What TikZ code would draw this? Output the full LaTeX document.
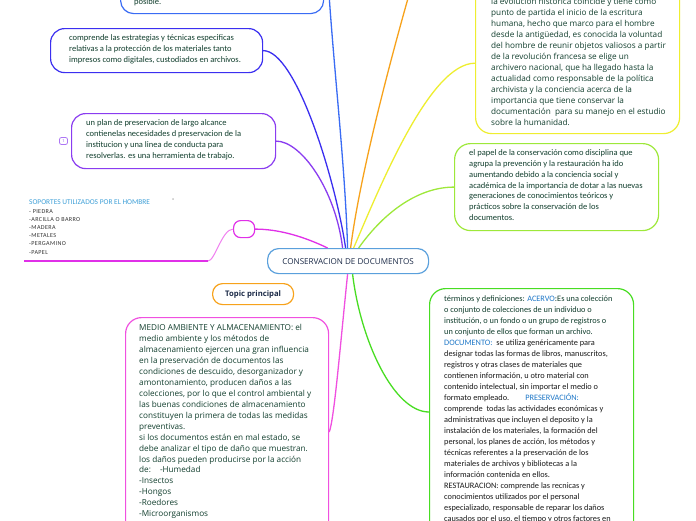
\documentclass[tikz,border=0pt]{standalone}
\usepackage{fontspec}
\setmainfont{Open Sans}
\newfontfamily\carl{Carlito}
\newfontfamily\carlsp[LetterSpace=6]{Carlito}
\usetikzlibrary{calc}
\definecolor{cBlue}{HTML}{3A6CF4}
\definecolor{cIndigo}{HTML}{3B2FF0}
\definecolor{cPurple}{HTML}{8A3CF0}
\definecolor{cMag}{HTML}{E030E8}
\definecolor{cMagLight}{HTML}{F080F0}
\definecolor{cPink}{HTML}{F050E0}
\definecolor{cYellow}{HTML}{EEEE30}
\definecolor{cLime}{HTML}{9EE83A}
\definecolor{cGreen}{HTML}{48DD22}
\definecolor{cOrange}{HTML}{F7A21B}
\definecolor{cRoot}{HTML}{5AA0DC}
\definecolor{tGreen}{HTML}{123F2E}
\definecolor{tNavy}{HTML}{1B2A47}
\definecolor{tKey}{HTML}{1F78C8}
\definecolor{tSop}{HTML}{3FA0D8}
\definecolor{tDark}{HTML}{1A1A1A}
\tikzset{
  box/.style={draw=#1, line width=1.2pt, rounded corners=14pt, fill=white,
    inner sep=0pt, anchor=north west},
  txt/.style={inner sep=0pt, anchor=north west, align=left, text=tGreen},
  conn/.style={draw=#1, line width=1.3pt},
}
\begin{document}
\begin{tikzpicture}[x=1pt,y=-1pt]
\useasboundingbox (0,0) rectangle (696,520);
\clip (0,0) rectangle (696,520);
\fill[white] (0,0) rectangle (696,520);

% off-canvas ends
\coordinate (c1) at (326,-60);
\coordinate (c2) at (425,-60);
\coordinate (u1) at (208,261);
\coordinate (u2) at (24,261);

% boxes
\node[box=cBlue, minimum width=203pt, minimum height=73pt, rounded corners=13pt] (n1) at (120,-60) {};
\node[box=cIndigo, minimum width=212pt, minimum height=44pt] (n2) at (50,28) {};
\node[box=cPurple, minimum width=204pt, minimum height=55pt] (n3) at (71,113) {};
\node[box=cMag, minimum width=21pt, minimum height=17pt, rounded corners=7pt] (sp) at (233,220) {};
\node[box=cRoot, minimum width=161pt, minimum height=25pt, rounded corners=11pt] (root) at (267,248) {};
\node[box=cOrange, minimum width=81pt, minimum height=21pt, rounded corners=10pt] (topic) at (212,283) {};
\node[box=cPink, minimum width=203pt, minimum height=260pt, rounded corners=16pt] (pnk) at (125,317) {};
\node[box=cYellow, minimum width=204pt, minimum height=233pt, rounded corners=16pt] (yel) at (475,-100) {};
\node[box=cLime, minimum width=204pt, minimum height=87pt, rounded corners=16pt] (n5) at (454,143) {};
\node[box=cGreen, minimum width=204pt, minimum height=260pt, rounded corners=16pt] (grn) at (429,288) {};
\node[draw=cPurple!70, line width=0.8pt, rounded corners=2pt, minimum width=8pt, minimum height=7pt,
  inner sep=0pt, font=\fontsize{4}{4}\selectfont, text=cPurple] (badge) at (63.5,141) {1};

% connectors
\draw[conn=cBlue] ([xshift=-0.5pt]root.north) .. controls +(-3,-98) and +(4,100) .. (c1);
\draw[conn=cIndigo] ([xshift=-2.5pt]root.north) .. controls +(-10,-68) and +(33,0) .. (n2.east);
\draw[conn=cPurple] ([xshift=-5.5pt]root.north) .. controls +(-7,-58) and +(25,0) .. (n3.east);
\draw[conn=cOrange] ([xshift=2.5pt]root.north) .. controls +(10,-78) and +(-30,100) .. (c2);
\draw[conn=cYellow] ([xshift=5.5pt]root.north) .. controls +(27,-63) and +(-45,0) .. ([yshift=71pt]yel.south west);
\draw[conn=cLime] ([xshift=10.5pt]root.north) .. controls +(27,-38) and +(-34,0) .. (n5.west);
\draw[conn=cMag] ([xshift=-20.5pt]root.north) .. controls +(-27,-13) and +(21,0) .. (sp.east);
\draw[conn=cMagLight, line width=1pt] (sp.west) .. controls +(-11,0) and +(7,0) .. (u1);
\draw[conn=cMag, line width=1.5pt] (u1) -- (u2);
\draw[conn=cPink] ([xshift=-0.5pt]root.south) .. controls +(-7,67) and +(5,-12) .. ([yshift=-115pt]pnk.north east);
\draw[conn=cGreen] ([xshift=4.5pt]root.south) .. controls +(8,67) and +(-35,0) .. ([yshift=-124pt]grn.north west);

% texts
\node[txt, font=\carl\fontsize{8.5}{11}\selectfont] (n1t) at (134,-1.4) {posible.};
\node[txt, font=\carl\fontsize{8.5}{11}\selectfont] (n2t) at (69,34.6) {comprende las estrategias y técnicas especificas\\relativas a la protección de los materiales tanto\\impresos como digitales, custodiados en archivos.};
\node[txt, font=\carl\fontsize{8.5}{10.8}\selectfont] (n3t) at (86,119.6) {un plan de preservacion de largo alcance\\contienelas necesidades d preservacion de la\\institucion y una linea de conducta para\\resolverlas. es una herramienta de trabajo.};
\node[txt, font=\carl\fontsize{7.4}{8}\selectfont, text=tSop] (sopt) at (29,199) {SOPORTES UTILIZADOS POR EL HOMBRE};
\node[txt, font=\carl\fontsize{7}{8}\selectfont, text=black!70] (sopd) at (172,199) {-};
\node[txt, font=\carlsp\fontsize{6.1}{8.2}\selectfont, text=black!80] (sopl) at (29,209) {- PIEDRA\\-ARCILLA O BARRO\\-MADERA\\-METALES\\-PERGAMINO\\-PAPEL};
\node[inner sep=0pt, font=\fontsize{8.1}{9}\selectfont, text=tNavy] (roott) at (root.center) {CONSERVACION DE DOCUMENTOS};
\node[inner sep=0pt, font=\bfseries\fontsize{7.7}{9}\selectfont, text=tNavy] (topict) at (topic.center) {Topic principal};
\node[txt, font=\fontsize{8.2}{10.94}\selectfont] (pnkt) at (139,324.3) {MEDIO AMBIENTE Y ALMACENAMIENTO: el\\medio ambiente y los métodos de\\almacenamiento ejercen una gran influencia\\en la preservación de documentos las\\condiciones de descuido, desorganizador y\\amontonamiento, producen daños a las\\colecciones, por lo que el control ambiental y\\las buenas condiciones de almacenamiento\\constituyen la primera de todas las medidas\\preventivas.\\si los documentos están en mal estado, se\\debe analizar el tipo de daño que muestran.\\los daños pueden producirse por la acción\\de:\hspace{9pt}-Humedad\\-Insectos\\-Hongos\\-Roedores\\-Microorganismos};
\node[txt, font=\fontsize{8.2}{11}\selectfont] (yelt) at (491,-1.7) {la evolución histórica coincide y tiene como\\punto de partida el inicio de la escritura\\humana, hecho que marco para el hombre\\desde la antigüedad, es conocida la voluntad\\del hombre de reunir objetos valiosos a partir\\de la revolución francesa se elige un\\archivero nacional, que ha llegado hasta la\\actualidad como responsable de la política\\archivista y la conciencia acerca de la\\importancia que tiene conservar la\\documentación\ \ para su manejo en el estudio\\sobre la humanidad.};
\node[txt, font=\carl\fontsize{8.5}{10.8}\selectfont] (n5t) at (469,149.6) {el papel de la conservación como disciplina que\\agrupa la prevención y la restauración ha ido\\aumentando debido a la conciencia social y\\académica de la importancia de dotar a las nuevas\\generaciones de conocimientos teóricos y\\prácticos sobre la conservación de los\\documentos.};
\node[txt, font=\carl\fontsize{8.3}{11}\selectfont] (grnt) at (444,295.7) {términos y definiciones: \textcolor{tKey}{ACERVO}:Es una colección\\o conjunto de colecciones de un individuo o\\institución, o un fondo o un grupo de registros o\\un conjunto de ellos que forman un archivo.\\\textcolor{tKey}{DOCUMENTO:}\ \ \textcolor{tDark}{se utiliza genéricamente para}\\\textcolor{tDark}{designar todas las formas de libros, manuscritos,}\\\textcolor{tDark}{registros y otras clases de materiales que}\\\textcolor{tDark}{contienen información, u otro material con}\\\textcolor{tDark}{contenido intelectual, sin importar el medio o}\\\textcolor{tDark}{formato empleado.}\hspace{16pt}\textcolor{tKey}{PRESERVACIÓN:}\\\textcolor{tDark}{comprende\ \ todas las actividades económicas y}\\\textcolor{tDark}{administrativas que incluyen el deposito y la}\\\textcolor{tDark}{instalación de los materiales, la formación del}\\\textcolor{tDark}{personal, los planes de acción, los métodos y}\\\textcolor{tDark}{técnicas referentes a la preservación de los}\\\textcolor{tDark}{materiales de archivos y bibliotecas a la}\\\textcolor{tDark}{información contenida en ellos.}\\\textcolor{tDark}{RESTAURACION: comprende las recnicas y}\\\textcolor{tDark}{conocimientos utilizados por el personal}\\\textcolor{tDark}{especializado, responsable de reparar los daños}\\\textcolor{tDark}{causados por el uso, el tiempo y otros factores en}};
\end{tikzpicture}
\end{document}
